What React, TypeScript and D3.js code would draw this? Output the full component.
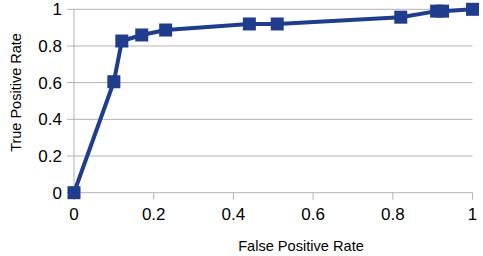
import { useEffect, useRef } from 'react';
import * as d3 from 'd3';

const fpr = [0, 0.1, 0.12, 0.17, 0.23, 0.44, 0.51, 0.82, 0.91, 0.925, 1];
const tpr = [0, 0.605, 0.827, 0.86, 0.887, 0.92, 0.92, 0.957, 0.99, 0.99, 1];
const ticks = [0, 0.2, 0.4, 0.6, 0.8, 1];

const blue = '#1f3d8c';

export default function App() {
  const svgRef = useRef<SVGSVGElement>(null);

  useEffect(() => {
    if (!svgRef.current) return;
    const width = 483;
    const height = 256;
    const svg = d3.select(svgRef.current);
    svg.selectAll('*').remove();

    const x = d3.scaleLinear().domain([0, 1]).range([74, 472.5]);
    const y = d3.scaleLinear().domain([0, 1]).range([192.7, 9.3]);
    const font = '"Liberation Sans", Arial, sans-serif';

    // Horizontal grid lines (extend left as ticks)
    svg.append('g')
      .selectAll('line')
      .data(ticks)
      .join('line')
      .attr('x1', 67)
      .attr('x2', x(1))
      .attr('y1', (d) => y(d))
      .attr('y2', (d) => y(d))
      .attr('stroke', '#b3b3b3')
      .attr('stroke-width', 1);

    // Y axis line
    svg.append('line')
      .attr('x1', x(0)).attr('x2', x(0))
      .attr('y1', y(1)).attr('y2', y(0) + 7)
      .attr('stroke', '#b3b3b3');

    // X ticks below axis
    svg.append('g')
      .selectAll('line')
      .data(ticks)
      .join('line')
      .attr('x1', (d) => x(d))
      .attr('x2', (d) => x(d))
      .attr('y1', y(0))
      .attr('y2', y(0) + 7)
      .attr('stroke', '#b3b3b3');

    // Y tick labels
    svg.append('g')
      .selectAll('text')
      .data(ticks)
      .join('text')
      .attr('x', 62)
      .attr('y', (d) => y(d))
      .attr('dy', '0.36em')
      .attr('text-anchor', 'end')
      .attr('font-family', font)
      .attr('font-size', 17)
      .attr('fill', '#000')
      .text((d) => d3.format('~g')(d));

    // X tick labels
    svg.append('g')
      .selectAll('text')
      .data(ticks)
      .join('text')
      .attr('x', (d) => x(d))
      .attr('y', 220)
      .attr('text-anchor', 'middle')
      .attr('font-family', font)
      .attr('font-size', 17)
      .attr('fill', '#000')
      .text((d) => d3.format('~g')(d));

    // Axis titles
    svg.append('text')
      .attr('x', 301)
      .attr('y', 250.5)
      .attr('text-anchor', 'middle')
      .attr('font-family', font)
      .attr('font-size', 14.6)
      .text('False Positive Rate');

    svg.append('text')
      .attr('transform', `translate(21,92.5) rotate(-90)`)
      .attr('text-anchor', 'middle')
      .attr('font-family', font)
      .attr('font-size', 14.5)
      .text('True Positive Rate');

    const pts = fpr.map((f, i) => [f, tpr[i]] as [number, number]);
    const line = d3.line<[number, number]>()
      .x((d) => x(d[0]))
      .y((d) => y(d[1]));

    svg.append('path')
      .datum(pts)
      .attr('d', line)
      .attr('fill', 'none')
      .attr('stroke', blue)
      .attr('stroke-width', 4)
      .attr('stroke-linejoin', 'round');

    const s = 13;
    svg.append('g')
      .selectAll('rect')
      .data(pts)
      .join('rect')
      .attr('x', (d) => x(d[0]) - s / 2)
      .attr('y', (d) => y(d[1]) - s / 2)
      .attr('width', s)
      .attr('height', s)
      .attr('fill', blue);

    svg.attr('width', width).attr('height', height);
  }, []);

  return (
    <svg
      ref={svgRef}
      style={{ position: 'absolute', left: 0, top: 0, background: '#fff' }}
    />
  );
}
